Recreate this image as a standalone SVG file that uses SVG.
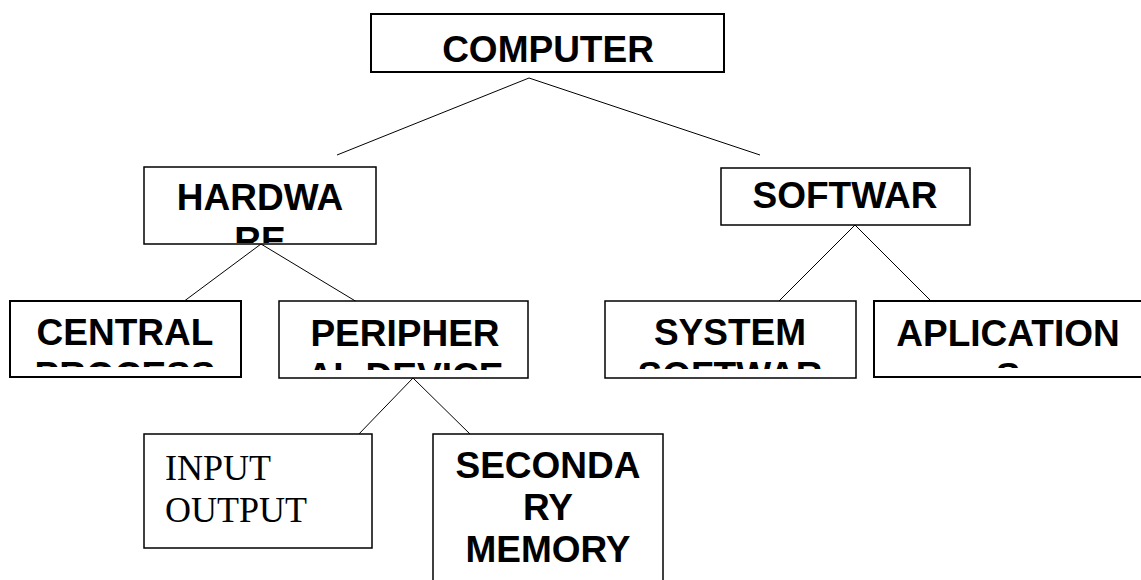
<svg xmlns="http://www.w3.org/2000/svg" width="1141" height="580" viewBox="0 0 1141 580">
<style>
.box{fill:#fff;stroke:#000;stroke-width:1.5}
.thick{stroke-width:2}
.lbl{font-family:"Liberation Sans",Arial,sans-serif;font-weight:bold;font-size:37px;fill:#000;text-anchor:middle}
.ser{font-family:"Liberation Serif","Times New Roman",serif;font-size:36px;fill:#000}
.conn line{stroke:#000;stroke-width:1}
</style>
<defs>
<clipPath id="cHW"><rect x="144" y="167" width="232" height="76"/></clipPath>
<clipPath id="cCE"><rect x="10" y="301" width="231" height="66"/></clipPath>
<clipPath id="cPE"><rect x="279" y="301" width="249" height="69"/></clipPath>
<clipPath id="cSY"><rect x="605" y="301" width="251" height="68"/></clipPath>
<clipPath id="cAP"><rect x="874" y="301" width="280" height="67"/></clipPath>
</defs>
<rect width="1141" height="580" fill="#fff"/>
<g id="connectors" class="conn">
<line x1="529" y1="78" x2="337" y2="155"/>
<line x1="529" y1="78" x2="760" y2="155"/>
<line x1="261" y1="244" x2="183" y2="302"/>
<line x1="261" y1="244" x2="357" y2="302"/>
<line x1="855" y1="225" x2="778" y2="302"/>
<line x1="855" y1="225" x2="932" y2="302"/>
<line x1="413" y1="378" x2="357" y2="436"/>
<line x1="413" y1="378" x2="472" y2="436"/>
</g>
<g id="computer">
<rect class="box thick" x="371" y="14" width="353" height="58"/>
<text class="lbl" x="548" y="62" font-size="39.5">COMPUTER</text>
</g>
<g id="hardware">
<rect class="box" x="144" y="167" width="232" height="77"/>
<g clip-path="url(#cHW)">
<text class="lbl" x="260" y="210">HARDWA</text>
<text class="lbl" x="260" y="253">RE</text>
</g>
</g>
<g id="software">
<rect class="box" x="721" y="168" width="249" height="57"/>
<text class="lbl" x="845" y="208">SOFTWAR</text>
</g>
<g id="central">
<rect class="box thick" x="10" y="301" width="231" height="76"/>
<g clip-path="url(#cCE)">
<text class="lbl" x="125" y="345">CENTRAL</text>
<text class="lbl" x="125" y="388">PROCESS</text>
</g>
</g>
<g id="peripheral">
<rect class="box" x="279" y="301" width="249" height="77"/>
<g clip-path="url(#cPE)">
<text class="lbl" x="405" y="346">PERIPHER</text>
<text class="lbl" x="405" y="389">AL DEVICE</text>
</g>
</g>
<g id="system">
<rect class="box" x="605" y="301" width="251" height="77"/>
<g clip-path="url(#cSY)">
<text class="lbl" x="730" y="345">SYSTEM</text>
<text class="lbl" x="730" y="388">SOFTWAR</text>
</g>
</g>
<g id="application">
<rect class="box thick" x="874" y="301" width="280" height="76"/>
<g clip-path="url(#cAP)">
<text class="lbl" x="1008" y="346">APLICATION</text>
<text class="lbl" x="1008" y="389">S</text>
</g>
</g>
<g id="inputoutput">
<rect class="box" x="144" y="434" width="228" height="114"/>
<text class="ser" x="165" y="480">INPUT</text>
<text class="ser" x="165" y="522">OUTPUT</text>
</g>
<g id="secondary">
<rect class="box" x="433" y="434" width="230" height="170"/>
<text class="lbl" x="548" y="478">SECONDA</text>
<text class="lbl" x="548" y="520">RY</text>
<text class="lbl" x="548" y="562">MEMORY</text>
</g>
</svg>
